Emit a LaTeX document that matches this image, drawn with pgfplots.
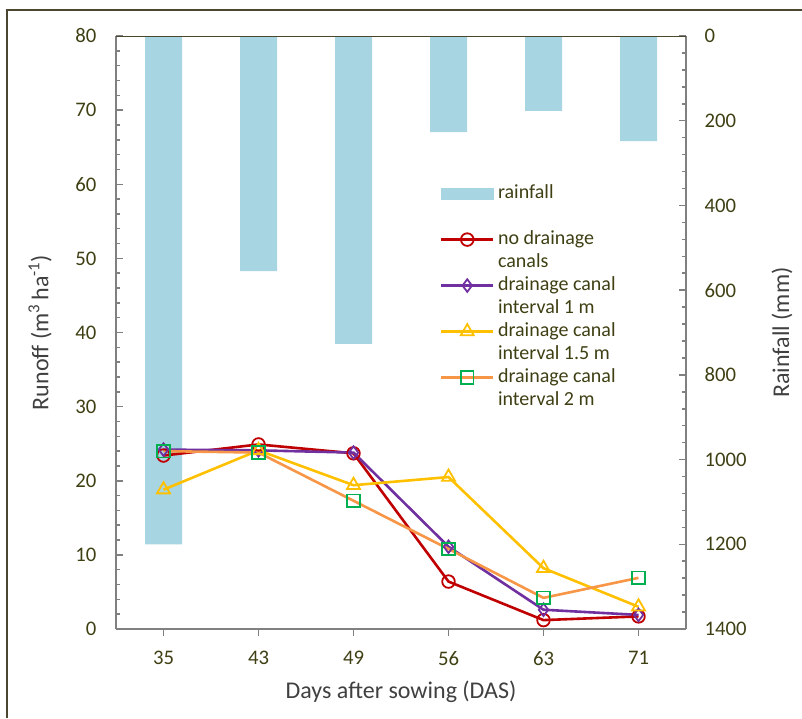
\documentclass[border=0pt]{standalone}
\usepackage{pgfplots}
\pgfplotsset{compat=1.18}
\usepackage{fontspec}
\setmainfont{Carlito}
\definecolor{rain}{HTML}{A8D5E2}
\definecolor{cred}{HTML}{C00000}
\definecolor{cpur}{HTML}{7030A0}
\definecolor{cyel}{HTML}{FFC000}
\definecolor{cora}{HTML}{F79646}
\definecolor{cgrn}{HTML}{00B050}
\definecolor{olive}{HTML}{3F3F14}
\definecolor{axgray}{HTML}{808080}
\definecolor{labgray}{HTML}{404040}
\definecolor{framec}{HTML}{4A4630}
\pgfplotsset{
  commonax/.style={
    at={(116pt,89pt)}, anchor=south west, scale only axis,
    width=570pt, height=593pt,
    xmin=-0.5, xmax=5.5,
    /pgf/number format/assume math mode=true,
    /pgf/number format/1000 sep={},
    ticklabel style={font=\fontsize{20.7}{24}\selectfont, text=olive},
    label style={font=\fontsize{24}{28}\selectfont, text=labgray},
    axis line style={axgray, line width=2pt},
    tick style={axgray, line width=1.5pt},
    major tick length=7pt, minor tick length=4pt,
  }
}
\begin{document}
\begin{tikzpicture}[x=1pt,y=1pt]
\useasboundingbox (0,0) rectangle (802,718);
\draw[framec, line width=2pt] (7,0) -- (7,708) -- (802,708);
\begin{axis}[commonax,
  ymin=0, ymax=1400, y dir=reverse,
  axis y line*=right, axis x line=none,
  ytick={0,200,...,1400}, minor y tick num=4,
  tick align=inside,
  yticklabel style={xshift=15pt},
  ylabel={Rainfall (mm)},
  ylabel style={at={(rel axis cs:1.1684,0.5)}, anchor=center},
  ybar, bar width=37pt,
]
\addplot[fill=rain, draw=none] coordinates {(0,1200) (1,555) (2,727) (3,227) (4,177) (5,248)};
\end{axis}
\begin{axis}[commonax,
  ymin=0, ymax=80,
  axis y line*=left, axis x line*=bottom,
  xtick={0,...,5}, xticklabels={35,43,49,56,63,71},
  ytick={0,10,...,80}, minor y tick num=4,
  xtick align=outside, ytick align=inside,
  yticklabel style={xshift=-16pt},
  xticklabel style={yshift=-12pt},
  xlabel={Days after sowing (DAS)},
  xlabel style={at={(rel axis cs:0.5,-0.1062)}, anchor=center},
  ylabel={Runoff (m\textsuperscript{3}\,ha\textsuperscript{-1})},
  ylabel style={at={(rel axis cs:-0.1333,0.5)}, anchor=center},
  legend cell align=left,
  legend style={at={(rel axis cs:0.568,0.754)}, anchor=north west, draw=none, fill=none,
    font=\fontsize{20}{24}\selectfont, text=olive, row sep=0pt, inner sep=0pt,
    nodes={inner ysep=1pt, inner xsep=3.5pt, text height=15pt, text depth=6pt}},
  legend image code/.code={\draw[mark repeat=2,mark phase=2,#1] plot coordinates {(0pt,0pt) (26pt,0pt) (52pt,0pt)};},
]
\draw[framec, line width=2pt] (rel axis cs:0,1) -- (rel axis cs:1,1);
\addlegendimage{legend image code/.code={\fill[rain] (0pt,-5.5pt) rectangle (52pt,5.5pt);}}
\addlegendentry{rainfall}
\addlegendimage{empty legend}
\addlegendentry{}
\addplot[cred, line width=2.6pt, mark=o, mark size=6.3pt, mark options={line width=1.8pt}]
  coordinates {(0,23.4) (1,24.9) (2,23.7) (3,6.4) (4,1.2) (5,1.7)};
\addlegendentry{no drainage}
\addlegendimage{empty legend}
\addlegendentry{canals}
\addplot[cpur, line width=2.6pt, mark=diamond, mark size=6.3pt, mark options={line width=1.8pt}]
  coordinates {(0,24.2) (1,24.1) (2,23.8) (3,11.1) (4,2.6) (5,1.9)};
\addlegendentry{drainage canal}
\addlegendimage{empty legend}
\addlegendentry{interval 1 m}
\addplot[cyel, line width=2.6pt, mark=triangle, mark size=7.5pt, mark options={line width=1.8pt}]
  coordinates {(0,18.8) (1,24.1) (2,19.4) (3,20.5) (4,8.2) (5,3.0)};
\addlegendentry{drainage canal}
\addlegendimage{empty legend}
\addlegendentry{interval 1.5 m}
\addplot[cora, line width=2.6pt, mark=square, mark size=6.3pt, mark options={draw=cgrn, line width=1.8pt}]
  coordinates {(0,24.0) (1,23.8) (2,17.3) (3,10.8) (4,4.2) (5,6.9)};
\addlegendentry{drainage canal}
\addlegendimage{empty legend}
\addlegendentry{interval 2 m}
\end{axis}
\end{tikzpicture}
\end{document}
